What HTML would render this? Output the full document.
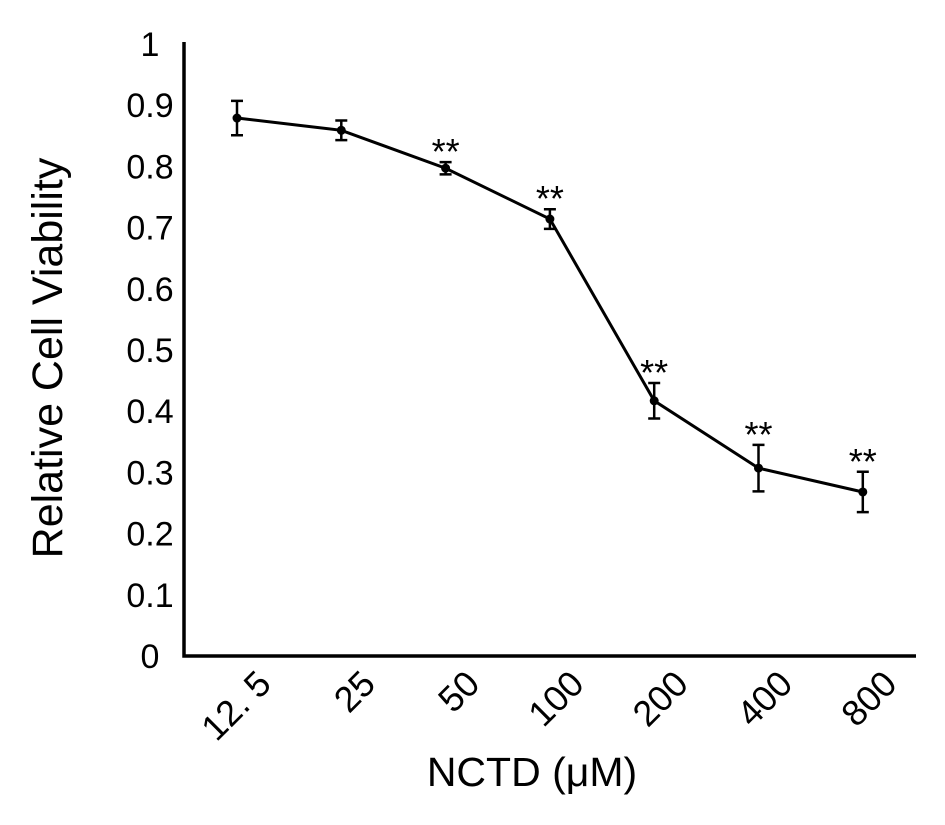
<!DOCTYPE html>
<html><head><meta charset="utf-8"><style>
body{margin:0;background:#fff}
svg{display:block}
text{font-family:"Liberation Sans",sans-serif;fill:#000}
</style></head><body>
<svg id="chart" width="945" height="825" viewBox="0 0 945 825" xmlns="http://www.w3.org/2000/svg">
<g id="axes"></g>
<g id="marks"></g>
<text transform="translate(62,358) rotate(-90)" text-anchor="middle" font-size="43">Relative Cell Viability</text>
<text x="532" y="786" text-anchor="middle" font-size="41">NCTD (μM)</text>
</svg>
<script>
const categories=["12.5","25","50","100","200","400","800"];
const catLabels=["12. 5","25","50","100","200","400","800"];
const values=[0.879,0.859,0.797,0.714,0.417,0.307,0.268];
const errors=[0.028,0.016,0.010,0.016,0.029,0.038,0.033];
const sig=[false,false,true,true,true,true,true];
const yTicks=[0,0.1,0.2,0.3,0.4,0.5,0.6,0.7,0.8,0.9,1];
const yTickLabels=["0","0.1","0.2","0.3","0.4","0.5","0.6","0.7","0.8","0.9","1"];
const NS="http://www.w3.org/2000/svg";
function y(v){return 656-612*v;}
function x(i){return 237+i*104.3;}
function mk(tag,attrs,parent,txt){const e=document.createElementNS(NS,tag);for(const k in attrs)e.setAttribute(k,attrs[k]);if(txt!==undefined)e.textContent=txt;parent.appendChild(e);return e;}
const axes=document.getElementById('axes'),marks=document.getElementById('marks');
let a=mk('path',{d:'M184,42 V656 H916',fill:'none',stroke:'#000','stroke-width':3.5},axes);


yTicks.forEach((t,i)=>{
 const e=mk('text',{x:150,y:y(t)+12,'text-anchor':'middle','font-size':34},axes,yTickLabels[i]);
 
 
});
categories.forEach((c,i)=>{
 const e=mk('text',{transform:`translate(${x(i)+36},${686}) rotate(-45)`,'text-anchor':'end','font-size':36},axes,catLabels[i]);
 
 
});
const line=mk('polyline',{points:values.map((v,i)=>x(i)+','+y(v)).join(' '),fill:'none',stroke:'#000','stroke-width':3},marks);


values.forEach((v,i)=>{
 const cx=x(i),t=y(v+errors[i]),b=y(v-errors[i]);
 const eb=mk('path',{d:`M${cx},${t} V${b} M${cx-6},${t} H${cx+6} M${cx-6},${b} H${cx+6}`,stroke:'#000','stroke-width':2.5,fill:'none'},marks);
 
 
 const p=mk('circle',{cx:cx,cy:y(v),r:4.5,fill:'#000'},marks);
 
 
 if(sig[i]){
  const s=mk('text',{x:cx,y:t+2,'text-anchor':'middle','font-size':36},marks,'**');
  
  
 }
});
</script>
</body></html>
